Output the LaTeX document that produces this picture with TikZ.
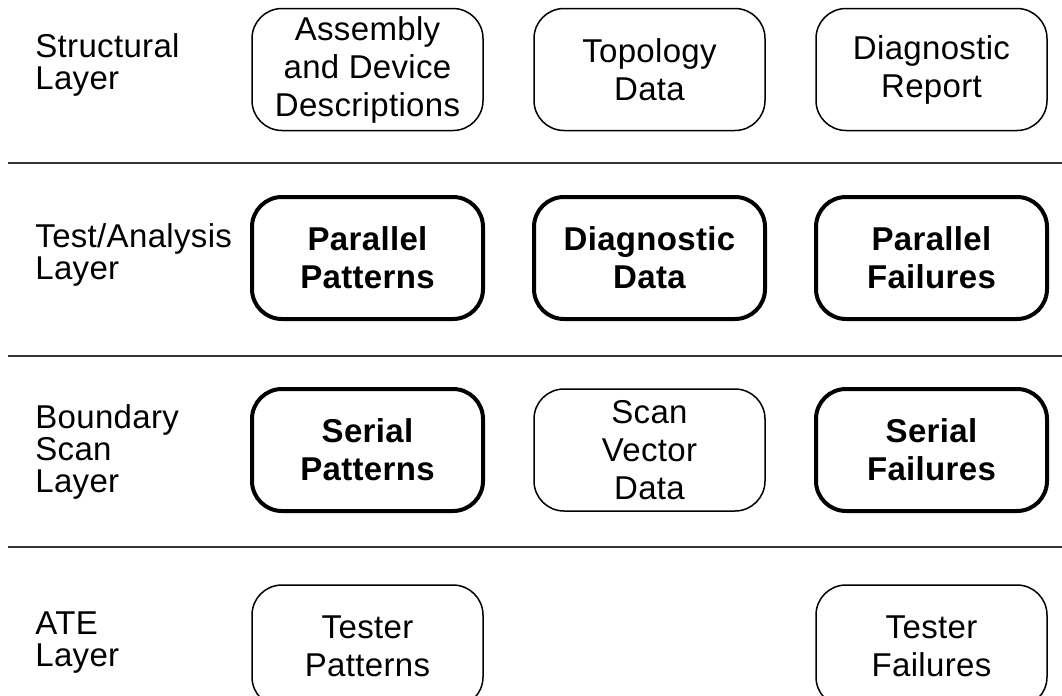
\documentclass[tikz,border=0pt]{standalone}
\usepackage{fontspec}
\setmainfont{Liberation Sans}[LetterSpace=1]
\usetikzlibrary{positioning}

\begin{document}
\begin{tikzpicture}[x=0.5pt,y=-0.5pt,
  obj/.style={draw,line width=0.75pt,rounded corners=15pt,align=center,inner sep=0pt,outer sep=0pt,
    minimum width=115.5pt,minimum height=61pt,font=\fontsize{16.5}{19}\selectfont},
  key/.style={obj,line width=2pt,font=\fontsize{16.5}{19}\selectfont\bfseries},
  lay/.style={anchor=north west,align=left,inner sep=0pt,font=\fontsize{16.5}{16}\selectfont},
  sep/.style={line width=0.75pt,black!80}]
  \useasboundingbox (0,0) rectangle (1062,696);
  \clip (0,0) rectangle (1062,696);
  % layer names
  \node[lay] (lstruct) at (35,33) {Structural\\Layer};
  \node[lay] (ltest) at (35,223) {Test/Analysis\\Layer};
  \node[lay] (lbscan) at (35,404) {Boundary\\Scan\\Layer};
  \node[lay] (late) at (35,611) {ATE\\Layer};
  % structural
  \node[obj] (asm) at (367.5,69.5) {Assembly\\and Device\\Descriptions};
  \node[obj,right=25.5pt of asm] (topo) {Topology\\Data};
  \node[obj,right=25.5pt of topo] (report) {Diagnostic\\Report};
  % test/analysis
  \node[key,below=33.25pt of asm] (ppat) {Parallel\\Patterns};
  \node[key,right=25.5pt of ppat] (diag) {Diagnostic\\Data};
  \node[key,right=25.5pt of diag] (pfail) {Parallel\\Failures};
  % boundary scan
  \node[key,below=35pt of ppat] (spat) {Serial\\Patterns};
  \node[obj,right=25.5pt of spat] (svec) {Scan\\Vector\\Data};
  \node[key,right=25.5pt of svec] (sfail) {Serial\\Failures};
  % ATE
  \node[obj,below=37pt of spat] (tpat) {Tester\\Patterns};
  \node[obj,below=37pt of sfail] (tfail) {Tester\\Failures};
  % layer borders
  \draw[sep] (8,163) -- (1062,163);
  \draw[sep] (8,356) -- (1062,356);
  \draw[sep] (8,547) -- (1062,547);
\end{tikzpicture}
\end{document}
